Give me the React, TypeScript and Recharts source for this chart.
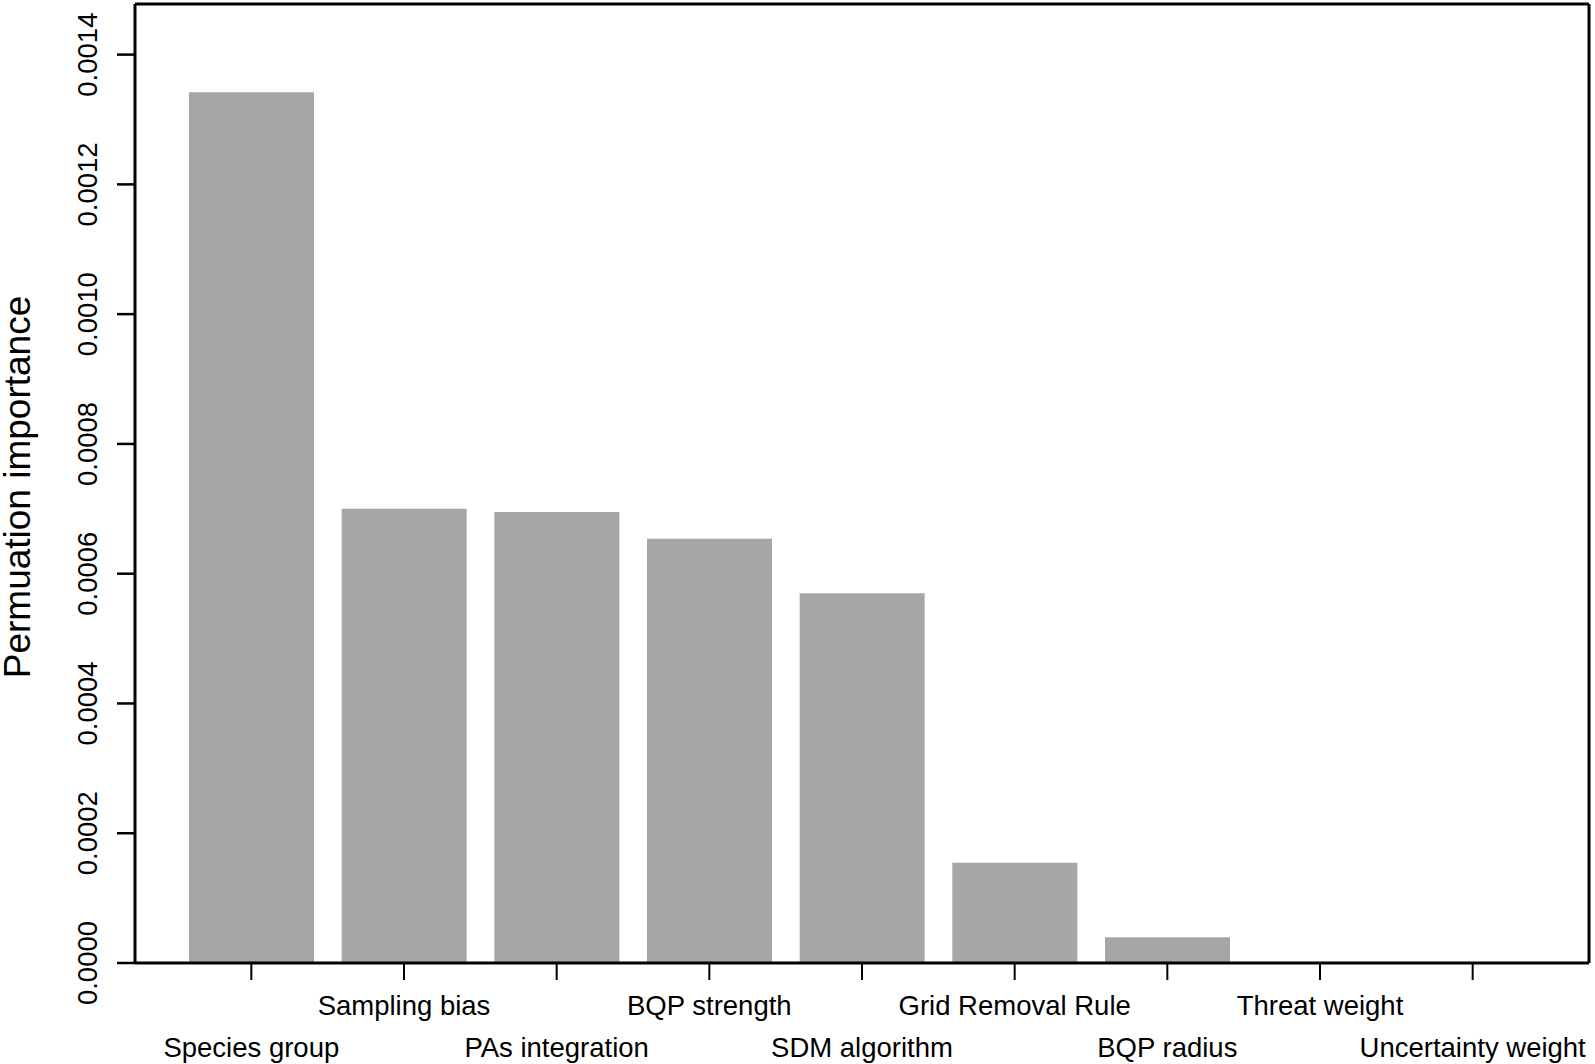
import React from 'react';
import { BarChart, Bar, XAxis, YAxis } from 'recharts';

const categories = [
  'Species group',
  'Sampling bias',
  'PAs integration',
  'BQP strength',
  'SDM algorithm',
  'Grid Removal Rule',
  'BQP radius',
  'Threat weight',
  'Uncertainty weight',
];

const importance = [0.001342, 0.0007, 0.000695, 0.000654, 0.00057, 0.0001545, 0.0000396, 0, -0.000003];

const yTicks = [0, 0.0002, 0.0004, 0.0006, 0.0008, 0.001, 0.0012, 0.0014];
const yTickLabels = ['0.0000', '0.0002', '0.0004', '0.0006', '0.0008', '0.0010', '0.0012', '0.0014'];
const yDomainMax = 0.001478;
const yTitle = 'Permuation importance';

const data = categories.map((name, i) => ({ name, value: importance[i] }));

const FONT = '"Liberation Sans", Arial, Helvetica, sans-serif';

const XTick = (props: any) => {
  const { x, y, payload } = props;
  const idx = categories.indexOf(payload.value);
  const dy = idx % 2 === 1 ? 34.5 : 76.5;
  return (
    <text x={x} y={y + dy} textAnchor="middle" fontSize={27.5} fontFamily={FONT} fill="#000">
      {payload.value}
    </text>
  );
};

const YTick = (props: any) => {
  const { x, y, payload } = props;
  const i = yTicks.indexOf(payload.value);
  const label = i >= 0 ? yTickLabels[i] : String(payload.value);
  const bx = x - 20;
  return (
    <text
      x={bx}
      y={y}
      transform={`rotate(-90, ${bx}, ${y})`}
      textAnchor="middle"
      fontSize={27.5}
      fontFamily={FONT}
      fill="#000"
    >
      {label}
    </text>
  );
};

const YTitle = (props: any) => {
  const vb = props.viewBox || { x: 0, y: 4, width: 135, height: 959 };
  const tx = vb.x + 30;
  const ty = vb.y + vb.height / 2 + 3.5;
  return (
    <text
      x={tx}
      y={ty}
      transform={`rotate(-90, ${tx}, ${ty})`}
      textAnchor="middle"
      fontSize={37}
      fontFamily={FONT}
      fill="#000"
    >
      {yTitle}
    </text>
  );
};

export default function App() {
  return (
    <div style={{ position: 'absolute', left: 0, top: 0, width: 1595, height: 1064, background: '#fff' }}>
      <BarChart
        width={1595}
        height={1064}
        data={data}
        margin={{ top: 3, right: 5, bottom: 0, left: 0 }}
        barSize={125}
      >
        <Bar dataKey="value" fill="#A6A6A6" isAnimationActive={false} />
        <XAxis
          dataKey="name"
          xAxisId={0}
          height={101}
          padding={{ left: 40, right: 40 }}
          interval={0}
          tickSize={17}
          tickMargin={0}
          tick={<XTick />}
          axisLine={{ stroke: '#000', strokeWidth: 3 }}
          tickLine={{ stroke: '#000', strokeWidth: 2 }}
        />
        <XAxis
          dataKey="name"
          xAxisId="top"
          orientation="top"
          height={1}
          padding={{ left: 40, right: 40 }}
          tick={false}
          tickLine={false}
          axisLine={{ stroke: '#000', strokeWidth: 3 }}
        />
        <YAxis
          yAxisId={0}
          width={135}
          domain={[0, yDomainMax]}
          allowDataOverflow
          ticks={yTicks}
          interval={0}
          tickSize={18}
          tickMargin={0}
          tick={<YTick />}
          axisLine={{ stroke: '#000', strokeWidth: 3 }}
          tickLine={{ stroke: '#000', strokeWidth: 2.5 }}
          label={<YTitle />}
        />
        <YAxis
          yAxisId="right"
          orientation="right"
          width={1}
          domain={[0, yDomainMax]}
          allowDataOverflow
          tick={false}
          tickLine={false}
          axisLine={{ stroke: '#000', strokeWidth: 3 }}
        />
      </BarChart>
    </div>
  );
}
